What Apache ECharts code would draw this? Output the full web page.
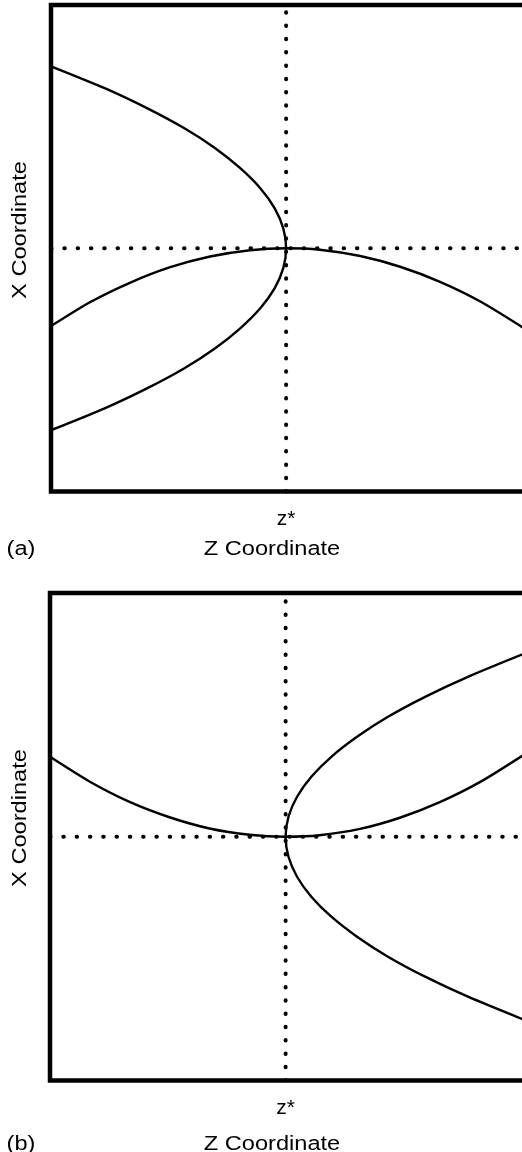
<!DOCTYPE html>
<html>
<head>
<meta charset="utf-8">
<script src="https://cdn.jsdelivr.net/npm/echarts@6/dist/echarts.min.js"></script>
<style>
  html, body { margin: 0; padding: 0; background: #fff; }
  #chart { width: 522px; height: 1152px; }
</style>
</head>
<body>
<div id="chart"></div>
<script>
// Critical coordinates (normalised axis units)
const zStar = 0.495;
const xStar = 0.5;
const zTickLabels = ['z*'];

// Panel (a): branch turning back at z*
const aTurnZ = [0.000, 0.113, 0.202, 0.280, 0.345, 0.399, 0.441, 0.471, 0.489, 0.495,
                0.489, 0.471, 0.441, 0.399, 0.345, 0.280, 0.202, 0.113, 0.000];
const aTurnX = [0.874, 0.829, 0.788, 0.747, 0.706, 0.664, 0.623, 0.582, 0.541, 0.500,
                0.459, 0.418, 0.377, 0.336, 0.294, 0.253, 0.212, 0.171, 0.126];
// Panel (a): arch peaking at z*
const aArchZ = [0.000, 0.082, 0.166, 0.251, 0.335, 0.419, 0.495, 0.566, 0.651, 0.735, 0.819, 0.903, 1.000];
const aArchX = [0.340, 0.389, 0.429, 0.461, 0.483, 0.496, 0.500, 0.497, 0.484, 0.462, 0.431, 0.391, 0.333];

// Panel (b): branch opening beyond z*
const bTurnZ = [1.000, 0.878, 0.788, 0.710, 0.645, 0.591, 0.549, 0.519, 0.501, 0.495,
                0.501, 0.519, 0.549, 0.591, 0.645, 0.710, 0.788, 0.878, 1.000];
const bTurnX = [0.877, 0.828, 0.787, 0.746, 0.705, 0.664, 0.623, 0.582, 0.541, 0.500,
                0.459, 0.418, 0.377, 0.336, 0.295, 0.254, 0.213, 0.172, 0.123];
// Panel (b): bowl with minimum at z*
const bBowlZ = [0.000, 0.082, 0.166, 0.251, 0.335, 0.419, 0.495, 0.566, 0.651, 0.735, 0.819, 0.903, 1.000];
const bBowlX = [0.664, 0.614, 0.572, 0.540, 0.517, 0.504, 0.500, 0.503, 0.516, 0.539, 0.571, 0.612, 0.671];

const FONT = '"Liberation Sans", Arial, Helvetica, sans-serif';
const zip = (zs, xs) => zs.map((z, i) => [z, xs[i]]);

const chart = echarts.init(document.getElementById('chart'), null, { renderer: 'canvas' });

function axesFor(idx) {
  return {
    x: {
      type: 'value', gridIndex: idx, min: 0, max: 1,
      axisLine: { show: false }, splitLine: { show: false },
      axisTick: { show: false },
      axisLabel: {
        show: true, customValues: [zStar], margin: 17,
        color: '#000', fontSize: 21, fontFamily: FONT,
        formatter: () => zTickLabels[0]
      }
    },
    y: {
      type: 'value', gridIndex: idx, min: 0, max: 1,
      axisLine: { show: false }, splitLine: { show: false },
      axisTick: { show: false }, axisLabel: { show: false }
    }
  };
}

const curveStyle = { color: '#000', width: 2.4 };
const dotStyle = { color: '#000', width: 4, type: [0.5, 12.8], cap: 'round' };

function panelSeries(idx, curves) {
  const out = [
    { type: 'line', xAxisIndex: idx, yAxisIndex: idx, data: [[zStar, 0], [zStar, 1]],
      symbol: 'none', lineStyle: dotStyle, silent: true, z: 2 },
    { type: 'line', xAxisIndex: idx, yAxisIndex: idx, data: [[0, xStar], [1, xStar]],
      symbol: 'none', lineStyle: dotStyle, silent: true, z: 2 }
  ];
  curves.forEach(d => out.push({
    type: 'line', xAxisIndex: idx, yAxisIndex: idx, data: d,
    symbol: 'none', smooth: 0.25, lineStyle: curveStyle, silent: true, z: 3
  }));
  return out;
}

const a = axesFor(0), b = axesFor(1);

function label(text, x, y, rot) {
  return {
    type: 'text', x: x, y: y, rotation: rot || 0, scaleX: 1.18,
    style: { text: text, fill: '#000', font: '20px ' + FONT,
             align: 'center', verticalAlign: 'middle',
             textAlign: 'center', textVerticalAlign: 'middle' },
    silent: true
  };
}

// The frames run past the right edge of the page, so their right side is not seen.
const gridCommon = {
  show: true, borderColor: '#000', borderWidth: 4.5,
  backgroundColor: 'transparent', containLabel: false, outerBoundsMode: 'none'
};

chart.setOption({
  animation: false,
  backgroundColor: '#fff',
  grid: [
    Object.assign({ left: 51, top: 5, width: 475, height: 486.5 }, gridCommon),
    Object.assign({ left: 50, top: 593, width: 476, height: 487.5 }, gridCommon)
  ],
  xAxis: [a.x, b.x],
  yAxis: [a.y, b.y],
  series: [
    ...panelSeries(0, [zip(aTurnZ, aTurnX), zip(aArchZ, aArchX)]),
    ...panelSeries(1, [zip(bTurnZ, bTurnX), zip(bBowlZ, bBowlX)])
  ],
  graphic: [
    label('(a)', 21, 549),
    label('Z Coordinate', 272, 549),
    label('X Coordinate', 20, 230, Math.PI / 2),
    label('(b)', 21, 1144),
    label('Z Coordinate', 272, 1144),
    label('X Coordinate', 20, 818, Math.PI / 2)
  ]
});
</script>
</body>
</html>
